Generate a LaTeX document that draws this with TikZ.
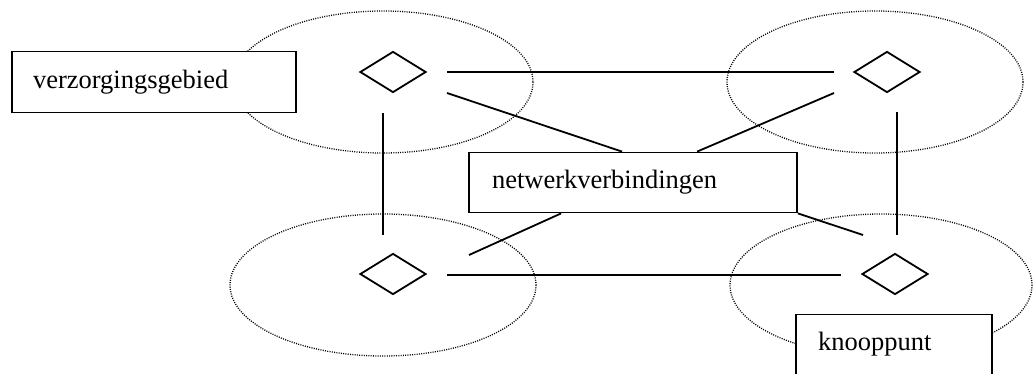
\documentclass[tikz,border=0pt]{standalone}
\usepackage{fontspec}
\setmainfont{Liberation Serif}
\usetikzlibrary{shapes.geometric}
\tikzset{
  area/.style={draw, line width=1.3pt, dash pattern=on 1pt off 1.3pt},
  knot/.style={draw, diamond, line width=1.8pt, inner sep=0pt, minimum width=66pt, minimum height=41pt},
  link/.style={line width=1.8pt},
  labelbox/.style={draw, fill=white, line width=1.8pt, rectangle, align=left,
    font=\fontsize{26.5}{30}\selectfont, inner ysep=0pt}
}
\begin{document}
\begin{tikzpicture}[x=1pt, y=-1pt]
\useasboundingbox (0,0) rectangle (1033,373);
\clip (0,0) rectangle (1033,373);
\fill[white] (0,0) rectangle (1033,373);

% service areas around the four nodes
\draw[area] (383,82) ellipse [x radius=150, y radius=71];
\draw[area] (875,82) ellipse [x radius=148, y radius=71];
\draw[area] (383,285) ellipse [x radius=153, y radius=71];
\draw[area] (881,285) ellipse [x radius=151, y radius=71];

% nodes
\node[knot] (tl) at (393,72) {};
\node[knot] (tr) at (887,72) {};
\node[knot] (bl) at (393,274) {};
\node[knot] (br) at (895,274) {};

% labels
\node[labelbox, minimum width=284pt, minimum height=61pt, text width=242pt, inner xsep=21pt]
  (area) at (154,82) {verzorgingsgebied};
\node[labelbox, minimum width=328pt, minimum height=60pt, text width=282pt, inner xsep=23pt]
  (net) at (633,182.5) {netwerkverbindingen};

% loose ends of the links
\coordinate (a1) at (447,72);  \coordinate (a2) at (834,72);
\coordinate (b1) at (447,93);  \coordinate (c1) at (834,93);
\coordinate (d1) at (383,113); \coordinate (d2) at (383,235);
\coordinate (e1) at (897,112); \coordinate (e2) at (897,235);
\coordinate (f1) at (447,275); \coordinate (f2) at (841,275);
\coordinate (g1) at (469,255); \coordinate (h2) at (863,235);

% links
\draw[link] (a1) -- (a2);
\draw[link] (b1) -- ([xshift=154pt]net.north west);
\draw[link] (c1) -- ([xshift=229pt]net.north west);
\draw[link] (d1) -- (d2);
\draw[link] (e1) -- (e2);
\draw[link] (f1) -- (f2);
\draw[link] (g1) -- ([xshift=93pt]net.south west);
\draw[link] (net.south east) -- (h2);

\node[labelbox, minimum width=196pt, minimum height=60pt, text width=152pt, inner xsep=22pt]
  (knoop) at (894,344.5) {knooppunt};
\end{tikzpicture}
\end{document}
